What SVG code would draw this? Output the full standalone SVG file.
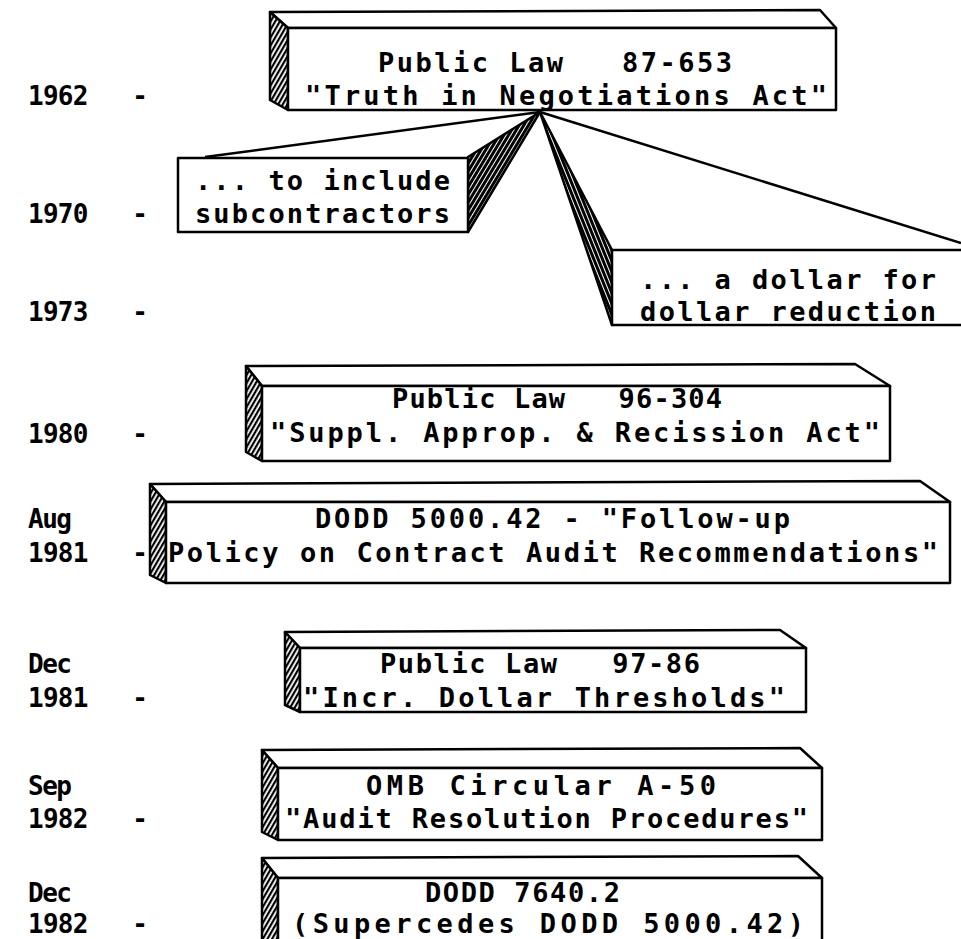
<svg xmlns="http://www.w3.org/2000/svg" width="961" height="939" viewBox="0 0 961 939">
<defs>
<pattern id="h1" width="4" height="4" patternUnits="userSpaceOnUse" patternTransform="rotate(30)"><rect width="4" height="4" fill="#fff"/><line x1="1" y1="0" x2="1" y2="4" stroke="#000" stroke-width="2.4"/></pattern>
<pattern id="w1" width="4" height="4" patternUnits="userSpaceOnUse" patternTransform="rotate(31)"><rect width="4" height="4" fill="#fff"/><line x1="1.5" y1="0" x2="1.5" y2="4" stroke="#000" stroke-width="3"/></pattern>
<pattern id="w2" width="4" height="4" patternUnits="userSpaceOnUse" patternTransform="rotate(-22)"><rect width="4" height="4" fill="#fff"/><line x1="1.5" y1="0" x2="1.5" y2="4" stroke="#000" stroke-width="3"/></pattern>
</defs>
<style>
.f{fill:#fff;stroke:#000;stroke-width:2.5;stroke-linejoin:round}
.s{fill:url(#h1);stroke:#000;stroke-width:2.5;stroke-linejoin:round}
.a{fill:url(#w1);stroke:#000;stroke-width:2.5;stroke-linejoin:round}
.b{fill:url(#w2);stroke:#000;stroke-width:2.5;stroke-linejoin:round}
.t{font-family:"DejaVu Sans Mono","Liberation Mono",monospace;font-size:27px;font-weight:bold;fill:#000}
.y{font-family:"DejaVu Sans Mono","Liberation Mono",monospace;font-size:26px;font-weight:bold;fill:#000}
.c{stroke:#000;stroke-width:2.5;fill:none}
</style>
<rect width="961" height="939" fill="#fff"/>

<g id="years">
<text class="y" x="28" y="105" textLength="120" xml:space="preserve">1962   -</text>
<text class="y" x="28" y="223" textLength="120" xml:space="preserve">1970   -</text>
<text class="y" x="28" y="321" textLength="120" xml:space="preserve">1973   -</text>
<text class="y" x="28" y="443" textLength="120" xml:space="preserve">1980   -</text>
<text class="y" x="28" y="528" textLength="44">Aug</text>
<text class="y" x="28" y="562" textLength="120" xml:space="preserve">1981   -</text>
<text class="y" x="28" y="673" textLength="44">Dec</text>
<text class="y" x="28" y="707" textLength="120" xml:space="preserve">1981   -</text>
<text class="y" x="28" y="795" textLength="44">Sep</text>
<text class="y" x="28" y="828" textLength="120" xml:space="preserve">1982   -</text>
<text class="y" x="28" y="902" textLength="44">Dec</text>
<text class="y" x="28" y="933" textLength="120" xml:space="preserve">1982   -</text>
</g>

<g id="connectors">
<line class="c" x1="540" y1="112" x2="205" y2="157"/>
<line class="c" x1="540" y1="112" x2="961" y2="243"/>
</g>

<g id="pl-87-653">
<polygon class="f" points="270,12 820,10 836,28 288,28"/>
<polygon class="s" points="270,12 288,28 288,110 270,100"/>
<rect class="f" x="288" y="28" width="548" height="82"/>
<text class="t" x="378" y="72" textLength="354" xml:space="preserve">Public Law   87-653</text>
<text class="t" x="305" y="105" textLength="522">"Truth in Negotiations Act"</text>
</g>

<g id="subcontractors">
<polygon class="a" points="468,157 540,112 468,232"/>
<rect class="f" x="178" y="158" width="290" height="74"/>
<text class="t" x="195" y="190" textLength="255">... to include</text>
<text class="t" x="195" y="223" textLength="255">subcontractors</text>
</g>

<g id="dollar-reduction">
<polygon class="b" points="540,112 612,250 612,325"/>
<rect class="f" x="612" y="250" width="360" height="75"/>
<text class="t" x="640" y="289" textLength="296">... a dollar for</text>
<text class="t" x="640" y="321" textLength="296">dollar reduction</text>
</g>

<g id="pl-96-304">
<polygon class="f" points="246,366 855,364 890,386 262,386"/>
<polygon class="s" points="246,366 262,386 262,461 246,452"/>
<rect class="f" x="262" y="386" width="628" height="75"/>
<text class="t" x="392" y="408" textLength="330" xml:space="preserve">Public Law   96-304</text>
<text class="t" x="270" y="442" textLength="610">"Suppl. Approp. &amp; Recission Act"</text>
</g>

<g id="dodd-5000-42">
<polygon class="f" points="150,484 920,481 950,502 166,502"/>
<polygon class="s" points="150,484 166,502 166,583 150,575"/>
<rect class="f" x="166" y="502" width="784" height="81"/>
<text class="t" x="315" y="528" textLength="475">DODD 5000.42 - "Follow-up</text>
<text class="t" x="168" y="562" textLength="770">Policy on Contract Audit Recommendations"</text>
</g>

<g id="pl-97-86">
<polygon class="f" points="285,632 780,630 806,648 300,648"/>
<polygon class="s" points="285,632 300,648 300,712 285,705"/>
<rect class="f" x="300" y="648" width="506" height="64"/>
<text class="t" x="380" y="673" textLength="320" xml:space="preserve">Public Law   97-86</text>
<text class="t" x="303" y="707" textLength="482">"Incr. Dollar Thresholds"</text>
</g>

<g id="omb-a-50">
<polygon class="f" points="262,750 800,748 822,768 278,768"/>
<polygon class="s" points="262,750 278,768 278,840 262,832"/>
<rect class="f" x="278" y="768" width="544" height="72"/>
<text class="t" x="366" y="795" textLength="350">OMB Circular A-50</text>
<text class="t" x="285" y="828" textLength="523">"Audit Resolution Procedures"</text>
</g>

<g id="dodd-7640-2">
<polygon class="f" points="262,858 798,856 822,878 278,878"/>
<polygon class="s" points="262,858 278,878 278,945 262,945"/>
<rect class="f" x="278" y="878" width="544" height="70"/>
<text class="t" x="425" y="902" textLength="195">DODD 7640.2</text>
<text class="t" x="292" y="933" textLength="512">(Supercedes DODD 5000.42)</text>
</g>
</svg>
